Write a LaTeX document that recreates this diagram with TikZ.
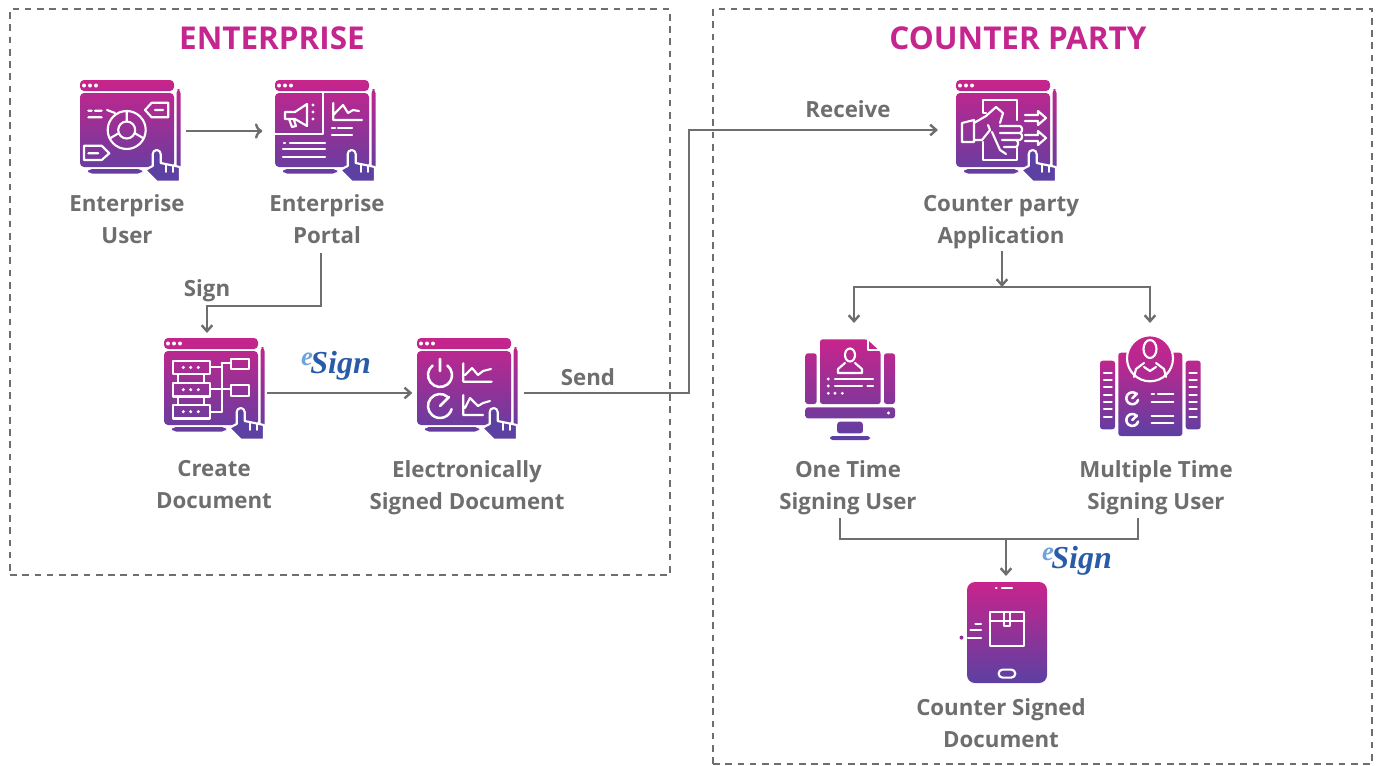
\documentclass[tikz,border=0pt]{standalone}
\usepackage{fontspec}
\setmainfont{Open Sans}
\newfontfamily\signfont{Liberation Serif}
\usetikzlibrary{arrows.meta,calc}
\definecolor{labelgrey}{HTML}{6E6E6E}
\definecolor{titlepink}{HTML}{C4258F}
\definecolor{icontop}{HTML}{C8248C}
\definecolor{iconlow}{HTML}{5C40A2}
\definecolor{signblue}{HTML}{2A5BA8}
\definecolor{signsky}{HTML}{6FA3DC}
\newcommand{\esign}{\signfont\bfseries\itshape\textcolor{signsky}{\raisebox{6pt}{\fontsize{20}{20}\selectfont e}}\kern-2pt\textcolor{signblue}{Sign}}
\tikzset{
	iconfill/.style={top color=icontop,bottom color=iconlow,draw=none},
	detail/.style={draw=white,line width=1.6pt,line cap=round,line join=round},
	winbase/.pic={
		\path[iconfill,rounded corners=3pt] (0,0) rectangle (94,11) (0,13) rectangle (94,87)
			(96.5,9) rectangle (100.5,101) (8,89) rectangle (62,93.5);
		\foreach \xx in {4,10,16} \fill[white] (\xx,5.5) circle (2);
		\filldraw[draw=white,line width=1.6pt,fill=iconlow,line join=round] (65,90) -- (72.7,86) -- (72.7,74)
			arc (-180:0:4) -- (80.7,83) -- (100,87) -- (100,101.7) -- (76.7,101.7) -- cycle;
		\draw[detail,line width=1.2pt] (86,85) -- (86,92) (93,86) -- (93,92);
	},
	usericon/.pic={
		\pic {winbase};
		\draw[detail] (46.7,50) circle (19) (46.7,50) circle (8.5) (46.7,31) -- (46.7,41.5)
			(54.5,53) -- (63,58) (39,53) -- (30.5,58);
		\draw[detail] (65,30) -- (71.7,22.7) -- (88.3,22.7) -- (88.3,37.3) -- (71.7,37.3) -- cycle (75,30) -- (83,30);
		\draw[detail] (4,65.7) -- (21.7,65.7) -- (29.3,73.3) -- (21.7,80) -- (4,80) -- cycle (8.3,73.3) -- (18.3,73.3);
		\draw[detail] (8.3,30.7) -- (11.7,30.7) (15,30.7) -- (21.7,30.7) (8.3,37.3) -- (21.7,37.3) (27,30) -- (35,33);
	},
	portalicon/.pic={
		\pic {winbase};
		\draw[detail] (48.3,13) -- (48.3,54) -- (0,54);
		\draw[detail] (10,32) -- (20,32) -- (32,24) -- (32,46) -- (20,39) -- (10,39) -- cycle (14,39) -- (17,47) -- (21,46) -- (19,40);
		\foreach \yy in {25,32,39} \fill[white] (38,\yy) circle (1.7);
		\draw[detail] (58.3,23) -- (58.3,40) -- (87,40) (58.3,35) -- (68,25) -- (73,33) -- (78,30) -- (84,31);
		\draw[detail] (57,48) -- (60,48) (63,48) -- (77,48) (57,55) -- (77,55);
		\draw[detail] (9,63) -- (10,63) (15,63) -- (50,63) (8,69) -- (50,69) (8,77) -- (50,77);
	},
	docicon/.pic={
		\pic {winbase};
		\foreach \yy in {22.7,45,67} {
			\draw[detail] (8.7,\yy) rectangle (46,\yy+13.5);
			\foreach \xx in {19.3,26.7,34.3} \fill[white] (\xx,\yy+6.7) circle (1.7);
		}
		\draw[detail] (14,36.2) -- (14,45) (40,36.2) -- (40,45) (14,58.5) -- (14,67) (40,58.5) -- (40,67);
		\draw[detail] (67,21) rectangle (85.3,31.3) (67,47) rectangle (85.3,58);
		\draw[detail] (46,29.3) -- (57.7,29.3) (57.7,25) -- (67,25) (57.7,25) -- (57.7,73.7) -- (46,73.7) (46,51.3) -- (67,51.3);
	},
	signedicon/.pic={
		\pic {winbase};
		\draw[detail,line width=1.9pt] (15.6,27.5) arc (-128:-412:12) (23,21) -- (23,33);
		\draw[detail,line width=1.9pt] (30.7,58.8) arc (-50:-345:12) (23,68) -- (32,59);
		\draw[detail] (46.3,25.3) -- (46.3,43.7) -- (74.7,43.7) (48,37) -- (55,30) -- (61,37) -- (66,33) -- (74,31);
		\draw[detail] (46.3,57) -- (46.3,77) -- (66,77) (48,70) -- (53,60) -- (61,68) -- (66,65) -- (73,63);
	},
	appicon/.pic={
		\pic {winbase};
		\draw[detail] (30,33) -- (27.3,33) -- (27.3,20) -- (60.7,20) -- (60.7,40) (60.7,68) -- (60.7,80) -- (27.3,80) -- (27.3,62);
		\draw[detail] (6,43) -- (18,40) -- (18,62) -- (6,62) -- cycle (18,43) -- (30,36) -- (40,27) -- (47,33) -- (44,43)
			(18,60) -- (26,60) -- (34,50) -- (32,45) (36,52) -- (44,70) -- (50,74);
		\draw[detail,rounded corners=2pt] (44,46) -- (66,46) -- (66,53) -- (44,53) (46,53) -- (66,53) -- (66,60) -- (46,60) (48,60) -- (62,60) -- (62,67) -- (48,67);
		\foreach \yy in {38,58} \draw[detail] (69,\yy-3) -- (82,\yy-3) -- (82,\yy-7) -- (90,\yy) -- (82,\yy+7) -- (82,\yy+3) -- (69,\yy+3);
	},
	oneicon/.pic={
		\path[iconfill,rounded corners=2pt] (0.3,14.3) rectangle (11.7,65) (15,0.3) -- (62,0.3) -- (75.7,13) -- (75.7,65) -- (15,65) -- cycle
			(79,14.3) rectangle (90,65) (0.3,68.3) rectangle (90,79.3) (32.3,82.7) -- (57.7,82.7) -- (58,94.3) -- (32,94.3) -- cycle (25,97) rectangle (65,101);
		\draw[detail] (63,1) -- (63,11) -- (74,11);
		\draw[detail] (45,16) ellipse (5 and 6.5) (33,34) -- (33,30) -- (40,24) (57,30) -- (50,24) (57,30) -- (57,34) -- (33,34);
		\foreach \yy in {40,47,54.3} \fill[white] (23.3,\yy) circle (1.6);
		\draw[detail] (30,40) -- (68,40) (30,47) -- (57,47) (62.3,47) -- (68,47);
		\fill[white] (30,54.3) circle (1.6) (37.3,54.3) circle (1.6) (83.5,74) circle (1.7);
	},
	multiicon/.pic={
		\path[iconfill,rounded corners=2pt] (0,25.7) rectangle (15,94.3) (18.3,17.7) rectangle (82.3,101) (85.7,25.7) rectangle (100.7,94.3);
		\filldraw[draw=white,line width=1.6pt,top color=icontop,bottom color=iconlow!30!icontop] (50,23.3) circle (23);
		\foreach \yy in {37.7,45,52.4,59.7,67,74.4,81.7}
			\draw[detail] (4,\yy) -- (11.7,\yy) (89.3,\yy) -- (96.7,\yy);
		\draw[detail] (50,14) ellipse (6.5 and 9) (34,42) -- (36,34) -- (44,28) (66,42) -- (64,34) -- (56,28) (44,32) -- (50,36) -- (56,32);
		\draw[detail,line width=1.9pt] (36.2,58.7) arc (-50:-345:6) (32.3,63.3) -- (37,58.5) (36.2,80.4) arc (-50:-345:6) (32.3,85) -- (37,80.5);
		\draw[detail] (51.7,59) -- (54,59) (58,59) -- (73.3,59) (51.7,66.7) -- (73.3,66.7) (51.7,81) -- (73.3,81) (51.7,88.3) -- (73.3,88.3);
	},
	phoneicon/.pic={
		\path[iconfill,rounded corners=6pt] (0,0) rectangle (80,101);
		\draw[detail] (29,5.6) -- (29.5,5.6) (35,5.6) -- (45,5.6);
		\draw[detail] (22.7,30) rectangle (57.3,64) (22.7,39) -- (57.3,39) (37,30) -- (37,44) -- (43,44) -- (43,30);
		\draw[detail,rounded corners=3pt] (31.6,87.6) rectangle (48.3,95.6);
		\draw[detail] (8.3,41.6) -- (14,41.6) (3.3,48.3) -- (14,48.3) (1,55.6) -- (14,55.6);
		\fill[icontop!50!iconlow] (-5.5,55.6) circle (2);
	}
}
\begin{document}
\begin{tikzpicture}
	[x=0.75pt,y=-0.75pt,
	frame/.style={draw=labelgrey,line width=1.7pt,dash pattern=on 5pt off 4.2pt,inner sep=0pt,outer sep=0pt},
	titlestyle/.style={text=titlepink,font=\fontsize{23.6}{23.6}\selectfont\bfseries},
	textstyle/.style={text=labelgrey,align=center,inner sep=0pt,font=\fontsize{16.7}{24}\selectfont\bfseries},
	iconbox/.style={inner sep=0pt,outer sep=0pt,minimum width=75pt,minimum height=76.5pt},
	flow/.style={draw=labelgrey,line width=1.8pt,-{Straight Barb[length=4.5pt,width=8pt,line width=1.8pt]}},
	plainflow/.style={draw=labelgrey,line width=1.8pt},
	signstyle/.style={inner sep=0pt,font=\fontsize{24}{24}\selectfont}]
	\useasboundingbox (0,0) rectangle (1381,765);
	\node at (340,292) (entframe) [frame,minimum width=495pt,minimum height=424.5pt] {};
	\node at (1042.5,386.5) (cptframe) [frame,minimum width=494.25pt,minimum height=566.25pt] {};
	\node at (272,38) (enttitle) [titlestyle] {ENTERPRISE};
	\node at (1018,38) (cpttitle) [titlestyle] {COUNTER PARTY};
	% enterprise side
	\pic at (80,80) {usericon};
	\pic at (275,80) {portalicon};
	\pic at (164,338) {docicon};
	\pic at (417,338) {signedicon};
	\node at (130,131) (user) [iconbox] {};
	\node at (325,131) (portal) [iconbox] {}
		edge [flow,<-,shorten >=4.5pt,shorten <=9.5pt] (user);
	\node at (214,389) (doc) [iconbox] {};
	\node at (467,393) (signed) [iconbox] {};
	\draw [flow,shorten <=2.5pt,shorten >=3.5pt] (doc.east |- signed) -- (signed.west);
	\node at (127,219) (usertxt) [textstyle] {Enterprise\\User};
	\node at (327,219) (portaltxt) [textstyle] {Enterprise\\Portal};
	\node at (214,485) (doctxt) [textstyle] {Create\\Document};
	\node at (467,488) (signedtxt) [textstyle] {Electronically\\Signed Document};
	\node at (207,291) (signlbl) [textstyle] {Sign};
	\node at (588,377) (sendlbl) [textstyle] {Send};
	\node at (336,366) (esignone) [signstyle] {\esign};
	\coordinate (portalout) at (321,253);
	\coordinate (docin) at (207,333);
	\draw [flow] (portalout) |- (264,306) -| (docin);
	% counter party side
	\pic at (956,80) {appicon};
	\pic at (805,339) {oneicon};
	\pic at (1100,335) {multiicon};
	\pic at (967,582) {phoneicon};
	\node at (1006,131) (app) [iconbox] {};
	\node at (848,109) (receivelbl) [textstyle] {Receive};
	\node at (1001,222) (apptxt) [textstyle] {Counter party\\Application};
	\node at (848,488) (onetxt) [textstyle] {One Time\\Signing User};
	\node at (1156,488) (multitxt) [textstyle] {Multiple Time\\Signing User};
	\node at (1001,723) (phonetxt) [textstyle] {Counter Signed\\Document};
	\node at (1077,561) (esigntwo) [signstyle] {\esign};
	\coordinate (sendout) at (524,393);
	\coordinate (appin) at (938,130);
	\draw [flow] (sendout) -- (689,393) -- (689,130) -- (appin);
	\coordinate (appout) at (1002,251);
	\coordinate (appbus) at (1002,287);
	\coordinate (onein) at (854,323);
	\coordinate (multiin) at (1150,323);
	\draw [flow] (appout) -- (appbus);
	\draw [flow] (appbus) -| (onein);
	\draw [flow] (appbus) -| (multiin);
	\coordinate (oneout) at (840,518);
	\coordinate (multiout) at (1138,518);
	\coordinate (joinbus) at (1006,539);
	\coordinate (phonein) at (1006,576);
	\draw [plainflow] (oneout) |- (joinbus) -| (multiout);
	\draw [flow] (joinbus) -- (phonein);
\end{tikzpicture}
\end{document}
